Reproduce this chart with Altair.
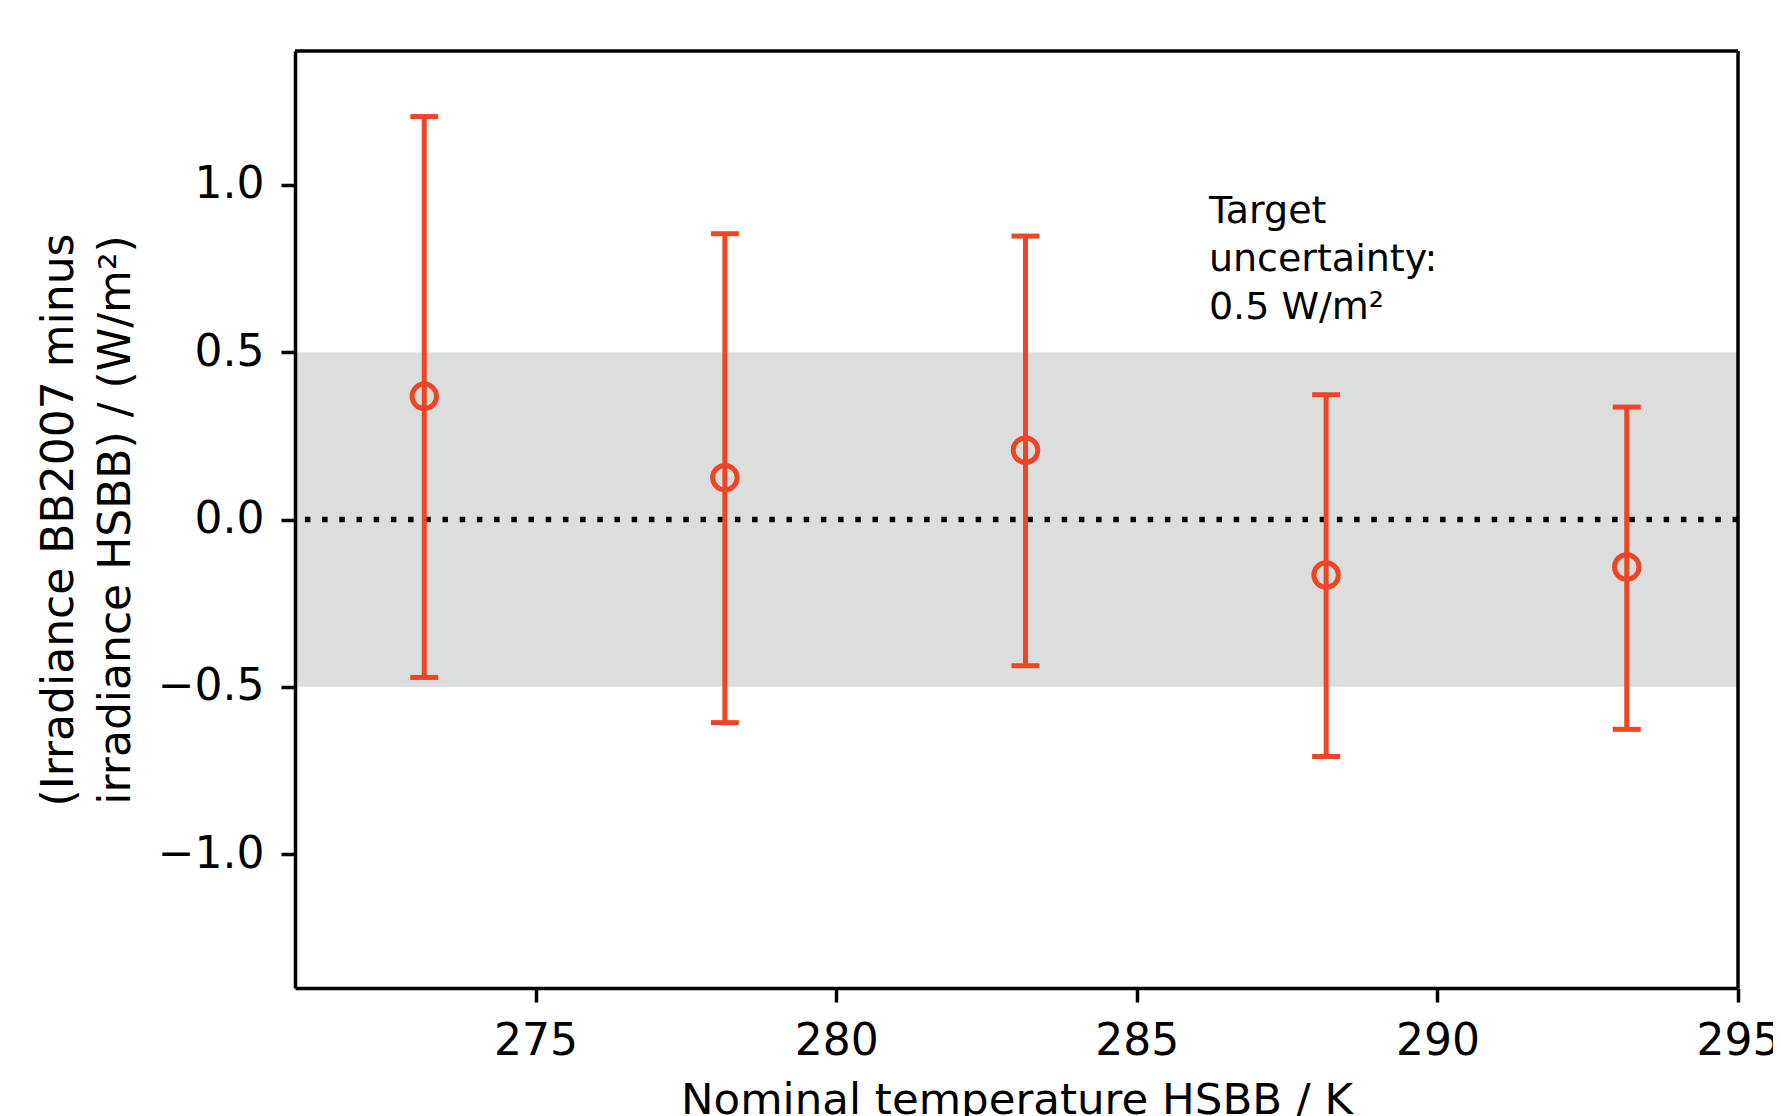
import altair as alt
import pandas as pd

# Data
temperatures = [273.15, 278.15, 283.15, 288.15, 293.15]
differences = [0.368, 0.125, 0.207, -0.166, -0.142]
upper_bounds = [1.204, 0.854, 0.847, 0.373, 0.336]
lower_bounds = [-0.472, -0.607, -0.437, -0.708, -0.627]

band_low = [-0.5]
band_high = [0.5]

x_ticks = [275, 280, 285, 290, 295]
y_ticks = [-1.0, -0.5, 0.0, 0.5, 1.0]
x_domain = [271, 295]
y_domain = [-1.4, 1.4]

annotation_lines = ["Target", "uncertainty:", "0.5 W/m²"]
annotation_x = [286.2]
annotation_y = [0.885]

RED = "#EE4527"
FONT = "DejaVu Sans"
W, H = 1443, 937
FS = 44

df = pd.DataFrame({
    "T": temperatures,
    "d": differences,
    "hi": upper_bounds,
    "lo": lower_bounds,
})
band_df = pd.DataFrame({"lo": band_low, "hi": band_high})
ann_df = pd.DataFrame({"x": annotation_x, "y": annotation_y})

x_scale = alt.Scale(domain=x_domain, nice=False, zero=False)
y_scale = alt.Scale(domain=y_domain, nice=False, zero=False)

x_axis = alt.Axis(
    values=x_ticks, format="d", title="Nominal temperature HSBB / K",
    grid=False, domain=True, domainColor="black", domainWidth=3.5,
    ticks=True, tickColor="black", tickWidth=3.5, tickSize=14,
    labelPadding=17, labelFontSize=FS, labelFont=FONT, labelColor="black",
    labelFlush=False, labelOverlap=False,
    titleFont=FONT, titleFontSize=43.5, titleFontWeight="normal", titleColor="black",
    titleBaseline="top", titleY=91, zindex=1,
)
y_axis = alt.Axis(
    values=y_ticks, format=".1f",
    title=["(Irradiance BB2007 minus", "irradiance HSBB) / (W/m²)"],
    grid=False, domain=True, domainColor="black", domainWidth=3.5,
    ticks=True, tickColor="black", tickWidth=3.5, tickSize=14,
    labelPadding=17, labelFontSize=FS, labelFont=FONT, labelColor="black",
    labelFlush=False, labelOverlap=False,
    titleFont=FONT, titleFontSize=FS, titleFontWeight="normal", titleColor="black",
    titleAngle=-90, titleBaseline="alphabetic", titleAlign="center",
    titleX=-223, titleY=H / 2, titleLineHeight=57, zindex=1,
)

band = alt.Chart(band_df).mark_rect(color="#DCDEDD").encode(
    y=alt.Y("lo:Q", scale=y_scale, axis=y_axis),
    y2="hi:Q",
    x=alt.value(0),
    x2=alt.value(W),
)

zero_line = alt.Chart(band_df).mark_rule(
    color="black", strokeWidth=5.5, strokeDash=[5.5, 11.7]
).encode(y=alt.datum(0, scale=y_scale))

bars = alt.Chart(df).mark_rule(color=RED, strokeWidth=5).encode(
    x=alt.X("T:Q", scale=x_scale, axis=x_axis),
    y=alt.Y("lo:Q", scale=y_scale),
    y2="hi:Q",
)

cap_hi = alt.Chart(df).mark_tick(
    color=RED, orient="horizontal", size=28, thickness=5, opacity=1
).encode(x=alt.X("T:Q", scale=x_scale), y=alt.Y("hi:Q", scale=y_scale))

cap_lo = alt.Chart(df).mark_tick(
    color=RED, orient="horizontal", size=28, thickness=5, opacity=1
).encode(x=alt.X("T:Q", scale=x_scale), y=alt.Y("lo:Q", scale=y_scale))

points = alt.Chart(df).mark_point(
    shape="circle", filled=False, size=600, strokeWidth=5, color=RED, opacity=1
).encode(x=alt.X("T:Q", scale=x_scale), y=alt.Y("d:Q", scale=y_scale))

annotation = alt.Chart(ann_df).mark_text(
    text=annotation_lines, align="left", baseline="alphabetic",
    fontSize=38, font=FONT, color="black", lineHeight=47.7,
).encode(x=alt.X("x:Q", scale=x_scale), y=alt.Y("y:Q", scale=y_scale))

# frame: top and right edges of the plot box
frame_top = alt.Chart(band_df).mark_rule(color="black", strokeWidth=3.5).encode(
    x=alt.value(0), x2=alt.value(W), y=alt.value(0)
)
frame_right = alt.Chart(band_df).mark_rule(color="black", strokeWidth=3.5).encode(
    x=alt.value(W), y=alt.value(0), y2=alt.value(H)
)

chart = alt.layer(
    band, zero_line, bars, cap_hi, cap_lo, points, annotation, frame_top, frame_right
).properties(
    width=W, height=H,
    padding={"left": 287, "top": 43, "right": 35, "bottom": 128},
    autosize=alt.AutoSizeParams(type="none"),
    background="white",
).configure_view(stroke=None)

chart.save("out.html", embed_options={"renderer": "svg", "actions": False})
